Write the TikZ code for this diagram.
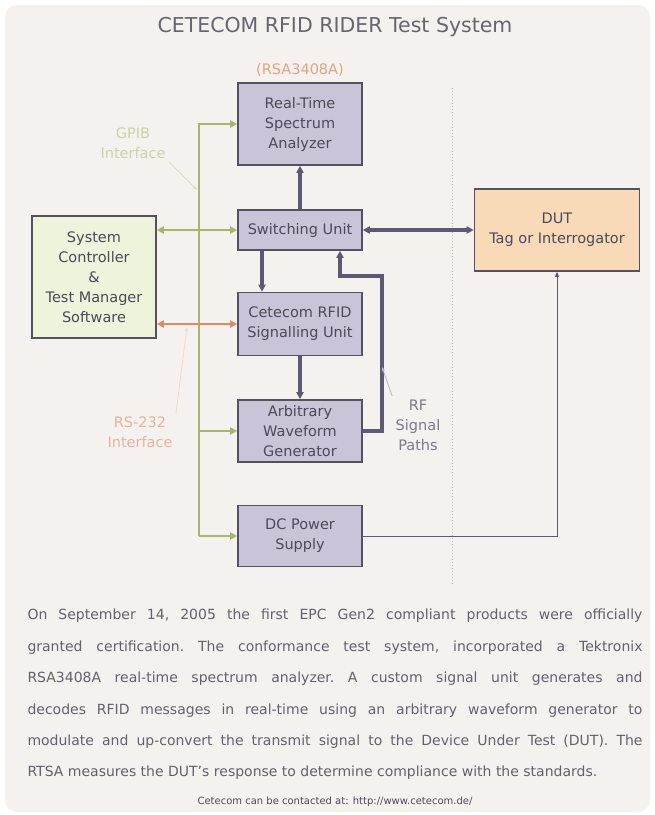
\documentclass[tikz,border=0pt]{standalone}
\usepackage{fontspec}
\setmainfont{DejaVu Sans}
\usetikzlibrary{positioning,arrows.meta}
\definecolor{panel}{HTML}{F5F1EF}
\definecolor{unitfill}{HTML}{CBC4D8}
\definecolor{unitline}{HTML}{55525F}
\definecolor{ctrlfill}{HTML}{EEF4DC}
\definecolor{dutfill}{HTML}{F8DAB9}
\definecolor{gpibcol}{HTML}{A9B46C}
\definecolor{rscol}{HTML}{D98C66}
\definecolor{rfcol}{HTML}{5D5873}
\definecolor{txtcol}{HTML}{4C4A56}
\definecolor{bodycol}{HTML}{66606E}
\begin{document}
\begin{tikzpicture}[x=1pt,y=-1pt,>={Triangle[length=7pt,width=7pt]},
    box/.style={draw=unitline,line width=1.6pt,align=center,text=txtcol,
      font=\fontsize{14.5}{20}\selectfont},
    unit/.style={box,fill=unitfill,minimum width=124pt},
    gpib/.style={draw=gpibcol,line width=2.6pt},
    rs/.style={draw=rscol,line width=2.6pt},
    rf/.style={draw=rfcol,line width=3.2pt},
    leader/.style={line width=0.8pt,-{Triangle[length=4pt,width=3pt]}},
    note/.style={align=center,font=\fontsize{14.5}{20}\selectfont}]
    % frame
    \useasboundingbox (0,0) rectangle (655,815);
    \fill[white] (0,0) rectangle (655,815);
    \fill[panel,rounded corners=12pt] (5,5) rectangle (650,812);
    \node[text=txtcol!85,font=\fontsize{20.5}{24}\selectfont] (title) at (335,27) {CETECOM RFID RIDER Test System};

    % units
    \node[unit,minimum height=82pt] (rtsa) at (300,124) {Real-Time\\Spectrum\\Analyzer};
    \node[unit,minimum height=40pt] (sw) [below of=rtsa,node distance=106pt] {Switching Unit};
    \node[unit,minimum height=63pt] (sig) [below of=sw,node distance=94pt] {Cetecom RFID\\Signalling Unit};
    \node[unit,minimum height=62pt] (awg) [below of=sig,node distance=107pt] {Arbitrary\\Waveform\\Generator};
    \node[unit,minimum height=61pt] (dc) [below of=awg,node distance=105pt] {DC Power\\Supply};
    \node[box,fill=ctrlfill,minimum width=124pt,minimum height=122pt] (ctrl) at (94,277) {System\\Controller\\\&\\Test Manager\\Software};
    \node[box,fill=dutfill,minimum width=165pt,minimum height=82pt] (dut) [right of=sw,node distance=257pt] {DUT\\Tag or Interrogator};
    \node[note,text=rscol!80] (model) [above of=rtsa,node distance=54pt] {(RSA3408A)};

    % dotted divider
    \draw[dotted,line width=1pt,black!25] (452,88) -- (452,585);

    % GPIB bus
    \coordinate (bus) at (199,0);
    \draw[gpib,->] (bus |- dc.west) -- (bus |- rtsa.west) -- (rtsa.west);
    \draw[gpib,->] (bus |- awg.west) -- (awg.west);
    \draw[gpib,->] (bus |- dc.west) -- (dc.west);
    \draw[gpib,<->] (ctrl.east |- sw.west) -- (sw.west);
    \draw[rs,<->] (ctrl.east |- sig.west) -- (sig.west);

    % RF signal paths
    \coordinate (rfturn) at (382,276);
    \draw[rf,->] (sw) -- (rtsa);
    \draw[rf,->] ([xshift=-38pt]sw.south) -- ([xshift=-38pt]sig.north);
    \draw[rf,->] (sig) -- (awg);
    \draw[rf,->] (awg.east) -| (rfturn) -| ([xshift=40pt]sw.south);
    \draw[rf,<->] (sw.east) -- (dut.west);
    \draw[draw=rfcol,line width=1pt,-{Triangle[length=5pt,width=4pt]}] (dc.east) -| (dut.south);

    % interface labels
    \node[note,text=gpibcol!60] (gpiblabel) at (133,143) {GPIB\\Interface};
    \node[note,text=rscol!65] (rslabel) at (140,432) {RS-232\\Interface};
    \node[note,text=rfcol!80] (rflabel) at (418,425) {RF\\Signal\\Paths};
    \coordinate (gpibtip) at (197,190);
    \coordinate (rstip) at (187,327);
    \coordinate (rftip) at (382,367);
    \draw[leader,gpibcol!45] (gpiblabel.south east) -- (gpibtip);
    \draw[leader,rscol!35] (rslabel.north east) -- (rstip);
    \draw[leader,rfcol!45] (rflabel.north west) -- (rftip);

    % caption
    \node[text=bodycol,text width=615pt,align=justify,anchor=north,inner sep=0pt,
      font=\fontsize{14}{31.4}\selectfont\frenchspacing] (body) at (335,609)
      {On September 14, 2005 the first EPC Gen2 compliant products were officially\linebreak
       granted certification. The conformance test system, incorporated a Tektronix\linebreak
       RSA3408A real-time spectrum analyzer. A custom signal unit generates and\linebreak
       decodes RFID messages in real-time using an arbitrary waveform generator to\linebreak
       modulate and up-convert the transmit signal to the Device Under Test (DUT). The\linebreak
       RTSA measures the DUT's response to determine compliance with the standards.};
    \node[text=txtcol,font=\fontsize{10}{12}\selectfont] (footer) at (335,802) {Cetecom can be contacted at: http://www.cetecom.de/};
\end{tikzpicture}
\end{document}
